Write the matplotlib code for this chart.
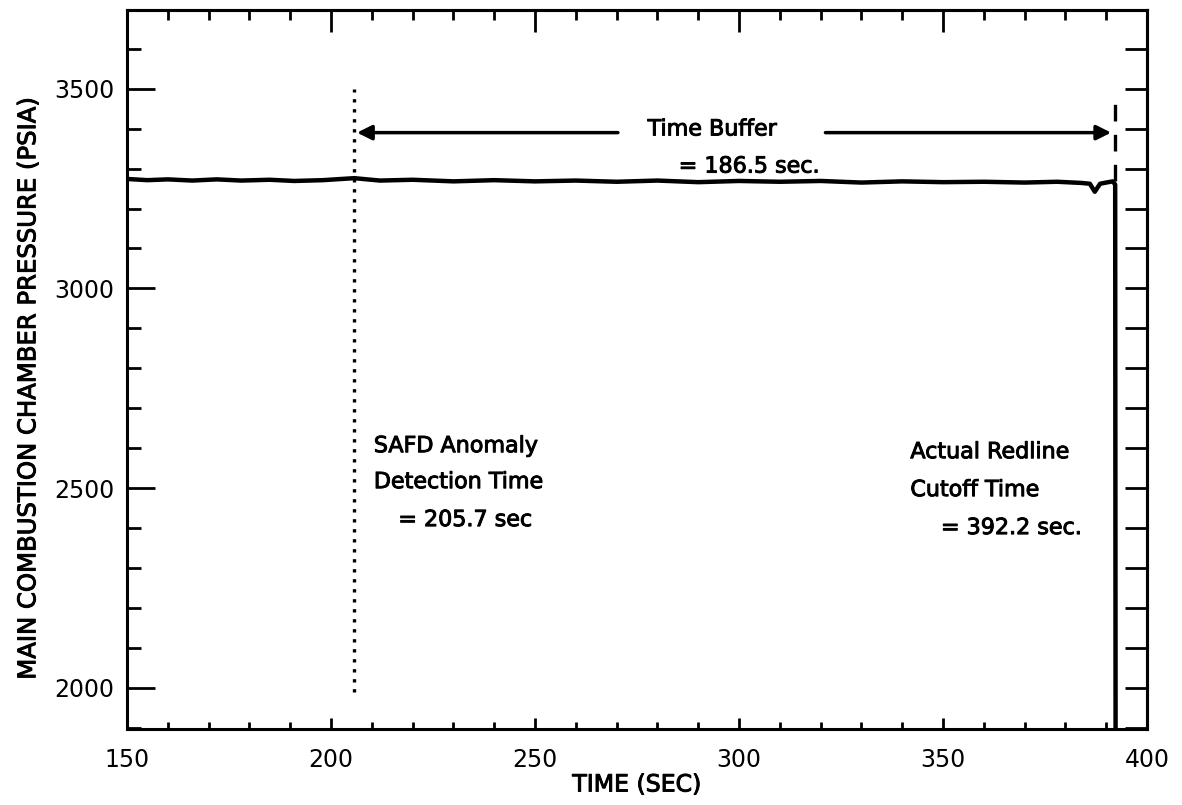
import matplotlib.pyplot as plt
import matplotlib.patheffects as pe
from matplotlib.ticker import MultipleLocator

# main combustion chamber pressure trace
time = [150, 155, 160, 166, 172, 178, 185, 191, 198, 205.7, 212, 220, 230, 240,
        250, 260, 270, 280, 290, 300, 310, 320, 330, 340, 350, 360, 370, 378,
        384, 386, 387.2, 388.5, 390, 391.6, 392.2, 392.3]
pressure = [3274, 3271, 3273, 3270, 3273, 3270, 3272, 3269, 3271, 3276, 3270, 3272,
            3268, 3271, 3268, 3270, 3267, 3270, 3266, 3269, 3267, 3269, 3265, 3268,
            3266, 3267, 3265, 3267, 3264, 3262, 3242, 3262, 3265, 3268, 3260, 1880]

detect_time = 205.7
cutoff_time = 392.2
buffer_level = 3390

x_major = [150, 200, 250, 300, 350, 400]
y_major = [2000, 2500, 3000, 3500]

plt.rcParams['font.family'] = ['DejaVu Sans']
heavy = [pe.withStroke(linewidth=0.7, foreground='black')]

fig = plt.figure(figsize=(11.82, 8.05), dpi=100)
ax = fig.add_axes([127/1182, 1 - 729/805, (1147-127)/1182, (729-10)/805])

ax.plot(time, pressure, color='black', lw=3.2, solid_joinstyle='round')

# SAFD detection (dotted) and redline cutoff (dashed)
ax.plot([detect_time, detect_time], [1990, 3500], color='black', lw=2.4, ls=(0, (1, 2.0)))
ax.plot([cutoff_time, cutoff_time], [3270, 3490], color='black', lw=2.4, ls=(0, (5, 4)))

# time buffer arrows
ax.annotate('', xy=(detect_time, buffer_level), xytext=(271, buffer_level),
            arrowprops=dict(arrowstyle='-|>', color='black', lw=2.5, mutation_scale=22))
ax.annotate('', xy=(cutoff_time - 0.3, buffer_level), xytext=(320.5, buffer_level),
            arrowprops=dict(arrowstyle='-|>', color='black', lw=2.5, mutation_scale=22))

notes = [
    (293.5, buffer_level + 8, 'Time Buffer', 'center'),
    (302.5, 3305, '= 186.5 sec.', 'center'),
    (210.5, 2605, 'SAFD Anomaly', 'left'),
    (210.5, 2515, 'Detection Time', 'left'),
    (216.5, 2420, '= 205.7 sec', 'left'),
    (342, 2590, 'Actual Redline', 'left'),
    (342, 2495, 'Cutoff Time', 'left'),
    (349.5, 2400, '= 392.2 sec.', 'left'),
]
for x, y, s, ha in notes:
    ax.text(x, y, s, ha=ha, va='center', fontsize=16, path_effects=heavy)

ax.set_xlim(150, 400)
ax.set_ylim(1897, 3697)
ax.set_xticks(x_major)
ax.set_yticks(y_major)
ax.xaxis.set_minor_locator(MultipleLocator(10))
ax.yaxis.set_minor_locator(MultipleLocator(100))
ax.tick_params(which='both', direction='in', width=2, labelsize=17)
ax.tick_params(axis='y', which='major', length=20, pad=9)
ax.tick_params(axis='y', which='minor', length=10)
ax.tick_params(axis='x', which='major', length=8, pad=14)
ax.tick_params(axis='x', which='minor', length=5)

# top and right ticks have their own lengths
top = ax.secondary_xaxis('top')
top.set_xticks(x_major)
top.xaxis.set_minor_locator(MultipleLocator(10))
top.tick_params(which='both', direction='in', width=2, labeltop=False)
top.tick_params(which='major', length=16)
top.tick_params(which='minor', length=7)
right = ax.secondary_yaxis('right')
right.set_yticks(y_major)
right.yaxis.set_minor_locator(MultipleLocator(100))
right.tick_params(which='both', direction='in', width=2, length=16, labelright=False)

for a in (ax, top, right):
    for s in a.spines.values():
        s.set_linewidth(2.2)

ax.set_xlabel('TIME (SEC)', fontsize=17, labelpad=0, path_effects=heavy)
ax.set_ylabel('MAIN COMBUSTION CHAMBER PRESSURE (PSIA)', fontsize=17.5, path_effects=heavy)
ax.yaxis.set_label_coords(-0.085, 0.473)

fig.savefig('out.png', dpi=100)
